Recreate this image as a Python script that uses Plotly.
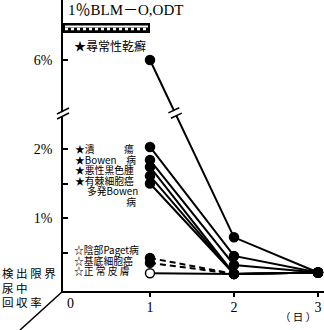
import plotly.graph_objects as go

# ---------------- data ----------------
days = [1, 2, 3]
psoriasis = [6.0, 0.72, 0.21]          # ★尋常性乾癬
ulcer = [2.03, 0.45, 0.21]             # ★潰瘍
bowen = [1.84, 0.32, 0.21]             # ★Bowen病
melanoma = [1.74, 0.19, 0.21]          # ★悪性黒色腫
scc = [1.61, 0.19, 0.21]               # ★有棘細胞癌
multi_bowen = [1.50, 0.19, 0.21]       # 多発Bowen病
paget = [0.42, 0.19]                   # ☆陰部Paget病 (days 1-2, dashed)
bcc = [0.35, 0.19]                     # ☆基底細胞癌 (days 1-2, dashed)
normal_skin = [0.20, 0.19, 0.21]       # ☆正常皮膚

x_tick_vals = [1, 2, 3]
x_tick_text = ["1", "2", "3"]
y_tick_vals = [0.5, 1.0, 1.5, 2.0, 6.0]
y_tick_text = ["", "1%", "", "2%", "6%"]

star_labels = ["★潰　　　瘍", "★Bowen　病", "★悪性黒色腫", "★有棘細胞癌",
               "　 多発Bowen", "　　　　　 病"]
open_labels = ["☆陰部Paget病", "☆基底細胞癌", "☆正 常 皮 膚"]
side_labels = ["検 出 限 界", "尿 中", "回 収 率"]

# ---------------- geometry ----------------
W, H = 324, 330
AX_X, AX_Y = 63, 291
X0_PX, X_PX = 66, 84          # px of day 0, px per day
Y0_PX, Y_PX = 287, 69         # px of 0 %, px per %
BREAK_SHIFT = 2.71            # broken axis: values above the break are shifted down


def disp(v):
    return v if v < 3 else v - BREAK_SHIFT


def px(x):
    return x / W


def py(y):
    return 1 - y / H


def dpx(day):
    return X0_PX + X_PX * day


def dpy(val):
    return Y0_PX - Y_PX * disp(val)


SERIF = "Liberation Serif, Noto Sans CJK JP"
CJK = "Noto Sans CJK JP"

fig = go.Figure()


def add_line(vals, dash="solid", colors=None):
    xs = days[:len(vals)]
    fig.add_trace(go.Scatter(
        x=xs, y=[disp(v) for v in vals], mode="lines+markers",
        line=dict(color="black", width=2, dash=dash),
        marker=dict(size=9, color=colors or "black",
                    line=dict(color="black", width=1.5)),
        showlegend=False, cliponaxis=False))


for s in [psoriasis, ulcer, bowen, melanoma, scc, multi_bowen]:
    add_line(s)
add_line(paget, dash="6px,4px")
add_line(bcc, dash="6px,4px")
add_line(normal_skin, colors=["white", "black", "black"])

shapes = []
# y-axis break
shapes.append(dict(type="line", xref="paper", yref="paper",
                   x0=px(AX_X), x1=px(AX_X), y0=py(111), y1=py(116),
                   line=dict(color="white", width=4)))
for yy in (111, 116):
    shapes.append(dict(type="line", xref="paper", yref="paper",
                       x0=px(AX_X - 6), y0=py(yy + 3), x1=px(AX_X + 6), y1=py(yy - 3),
                       line=dict(color="black", width=1.5)))
# break on the psoriasis line
x1p, y1p = dpx(days[0]), dpy(psoriasis[0])
x2p, y2p = dpx(days[1]), dpy(psoriasis[1])
L = ((x2p - x1p) ** 2 + (y2p - y1p) ** 2) ** 0.5
ux, uy = (x2p - x1p) / L, (y2p - y1p) / L
nx, ny = uy, -ux
t = (113 - y1p) / (y2p - y1p)
bx, by = x1p + t * (x2p - x1p), y1p + t * (y2p - y1p)
shapes.append(dict(type="line", xref="paper", yref="paper",
                   x0=px(bx - 3 * ux), y0=py(by - 3 * uy), x1=px(bx + 3 * ux), y1=py(by + 3 * uy),
                   line=dict(color="white", width=5)))
for s in (-3, 3):
    cx, cy = bx + s * ux, by + s * uy
    shapes.append(dict(type="line", xref="paper", yref="paper",
                       x0=px(cx - 6 * nx), y0=py(cy - 6 * ny), x1=px(cx + 6 * nx), y1=py(cy + 6 * ny),
                       line=dict(color="black", width=1.5)))
# diagonal (depth) axis
shapes.append(dict(type="line", xref="paper", yref="paper",
                   x0=px(AX_X), y0=py(AX_Y), x1=px(20), y1=py(330),
                   line=dict(color="black", width=1.5)))
# patterned header bar
shapes.append(dict(type="rect", xref="paper", yref="paper",
                   x0=px(AX_X), x1=px(150), y0=py(23), y1=py(33),
                   fillcolor="black", line=dict(width=0)))
shapes.append(dict(type="line", xref="paper", yref="paper",
                   x0=px(65), x1=px(148), y0=py(26.5), y1=py(26.5),
                   line=dict(color="white", width=2)))
shapes.append(dict(type="line", xref="paper", yref="paper",
                   x0=px(65), x1=px(148), y0=py(29), y1=py(29),
                   line=dict(color="white", width=2.5, dash="dot")))

ann = []


def text(t_, x, y, size, font=CJK, anchor="left"):
    ann.append(dict(text=t_, x=px(x), y=py(y), xref="paper", yref="paper",
                    xanchor=anchor, yanchor="middle", showarrow=False,
                    align=anchor if anchor != "center" else "center",
                    font=dict(family=font, size=size, color="black")))


def block(lines, x, y_first, y_step, glyph_size):
    """Multi-line block: line spacing = 1.3 * base size, glyphs sized by span."""
    base = y_step / 1.3
    body = "<br>".join(f'<span style="font-size:{glyph_size}px">{ln}</span>' for ln in lines)
    y_mid = y_first + y_step * (len(lines) - 1) / 2
    text(body, x, y_mid, base)


text("1％BLM－O,ODT", 66, 10, 15, SERIF)
text("★尋常性乾癬", 72, 45, 12)
block(star_labels, 73, 149, 10.6, 9.8)
block(open_labels, 72, 250, 10.5, 9.8)
block(side_labels, 0, 273, 14.5, 11.5)
text("0", 70, 303, 14, SERIF, anchor="center")
text("（ 日 ）", 298, 316, 10.5, anchor="center")

fig.update_layout(
    width=W, height=H, margin=dict(l=0, r=0, t=0, b=0),
    paper_bgcolor="white", plot_bgcolor="white",
    shapes=shapes, annotations=ann, showlegend=False,
    xaxis=dict(domain=[AX_X / W, 1],
               range=[(AX_X - X0_PX) / X_PX, (W - X0_PX) / X_PX],
               showgrid=False, zeroline=False, showline=True, linecolor="black", linewidth=1.5,
               ticks="outside", ticklen=4, tickwidth=1.5, tickcolor="black",
               tickvals=x_tick_vals, ticktext=x_tick_text,
               tickfont=dict(family=SERIF, size=14, color="black"), ticklabelstandoff=-2),
    yaxis=dict(domain=[(H - AX_Y) / H, 1],
               range=[(Y0_PX - AX_Y) / Y_PX, Y0_PX / Y_PX],
               showgrid=False, zeroline=False, showline=True, linecolor="black", linewidth=1.5,
               ticks="inside", ticklen=5, tickwidth=1.5, tickcolor="black",
               tickvals=[disp(v) for v in y_tick_vals], ticktext=y_tick_text,
               tickfont=dict(family=SERIF, size=14, color="black"), ticklabelstandoff=6),
)

fig.write_html("out.html")
